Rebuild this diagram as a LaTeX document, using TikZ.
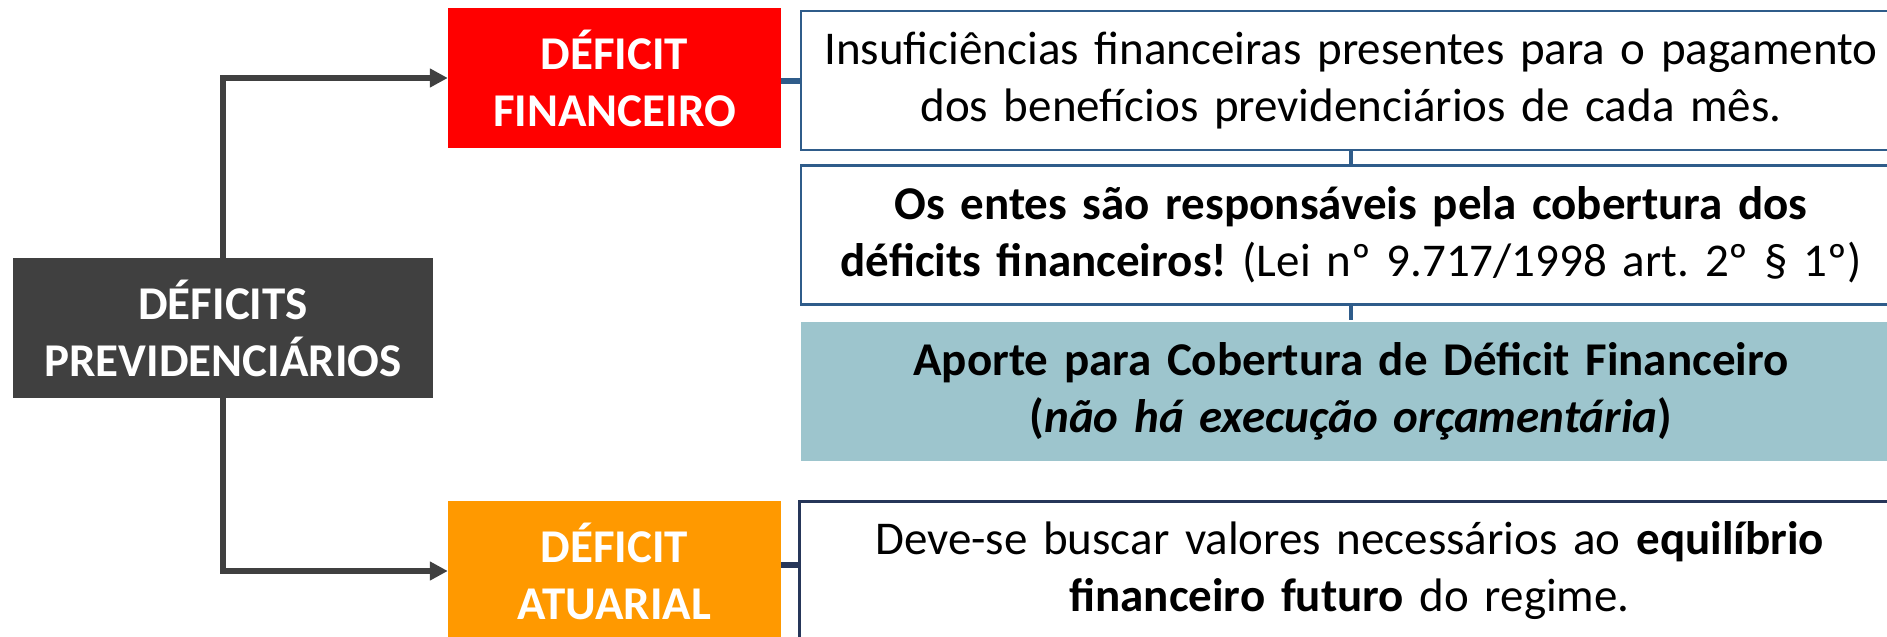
\documentclass[tikz,border=0pt]{standalone}
\usepackage{fontspec}
\setmainfont{Carlito}
\frenchspacing
\usetikzlibrary{arrows.meta}
\definecolor{boxgray}{HTML}{404040}
\definecolor{boxred}{HTML}{FF0000}
\definecolor{boxorange}{HTML}{FF9900}
\definecolor{boxteal}{HTML}{9DC5CD}
\definecolor{lineblue}{HTML}{2F5C8A}
\definecolor{linenavy}{HTML}{263659}

\tikzset{
  box/.style={rectangle, inner sep=0pt, align=center, font=\fontsize{47}{57}\selectfont},
  headbox/.style={box, text=white, font=\fontsize{47}{57}\selectfont\bfseries, minimum height=140pt},
  infobox/.style={box, draw=lineblue, line width=2.5pt, fill=white, text width=1090pt, minimum width=1100pt, minimum height=139pt},
  arrow/.style={boxgray, line width=6pt, -{Triangle[length=18pt,width=18pt]}},
  link/.style={lineblue, line width=3.5pt},
}

\begin{document}
\begin{tikzpicture}[x=1pt,y=-1pt]
        \useasboundingbox (0,0) rectangle (1887,637);
        \clip (0,0) rectangle (1887,637);

        \node[headbox, fill=boxgray, minimum width=420pt] (prev) at (223,328) {DÉFICITS\\PREVIDENCIÁRIOS};
        \node[headbox, fill=boxred, minimum width=333pt] (fin) at (614.5,78) {DÉFICIT\\FINANCEIRO};
        \node[headbox, fill=boxorange, minimum width=333pt] (atu) at (614.5,571) {DÉFICIT\\ATUARIAL};

        \node[infobox] (insuf) at (1351,80.5) {Insuficiências financeiras presentes para o pagamento\\dos benefícios previdenciários de cada mês.};
        \node[infobox] (entes) at (1351,235) {\textbf{Os entes são responsáveis pela cobertura dos}\\\textbf{déficits financeiros!} (Lei nº 9.717/1998 art. 2º § 1º)};
        \node[infobox, draw=none, fill=boxteal] (aporte) at (1351,391) {\textbf{Aporte para Cobertura de Déficit Financeiro}\\\textbf{(\textit{não há execução orçamentária})}};
        \node[infobox, draw=linenavy] (equil) at (1349.5,571) {Deve-se buscar valores necessários ao \textbf{equilíbrio}\\\textbf{financeiro futuro} do regime.};

        \draw[arrow] (prev.north) |- (fin.west);
        \draw[arrow] (prev.south) |- (atu.west);

        \draw[link, line width=6pt] ([yshift=-2.5pt]fin.east) -- ([yshift=-2.5pt]fin.east -| insuf.west);
        \draw[link, linenavy, line width=6pt] ([yshift=6pt]atu.east) -- ([yshift=6pt]atu.east -| equil.west);
        \draw[link] (insuf.south) -- (entes.north);
        \draw[link] (entes.south) -- (aporte.north);
    \end{tikzpicture}
\end{document}
